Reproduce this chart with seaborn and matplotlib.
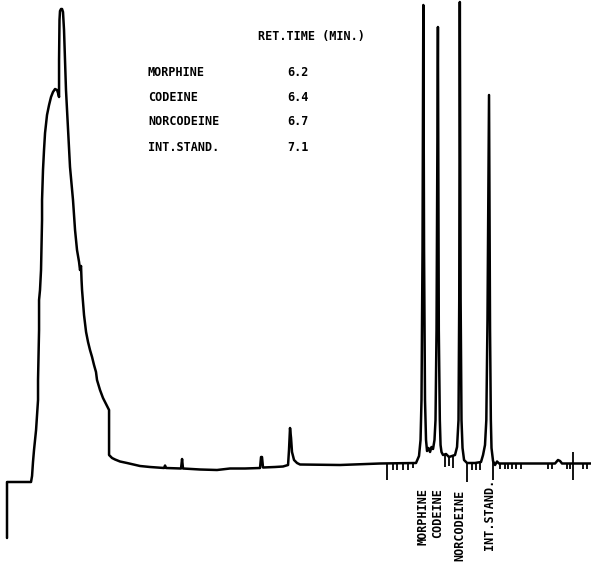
import matplotlib
matplotlib.use("Agg")
import matplotlib.pyplot as plt
import matplotlib.transforms as mtransforms
import numpy as np
import pandas as pd
import seaborn as sns

# Detector trace: retention time (min) and detector response (arbitrary units)
time_min = [
    0.497, 0.497, 0.826, 0.840, 0.853, 0.867, 0.881, 0.895, 0.908, 0.922,
    0.922, 0.936, 0.936, 0.949, 0.963, 0.977, 0.977, 0.990, 1.004, 1.018,
    1.045, 1.073, 1.100, 1.127, 1.155, 1.182, 1.196, 1.210, 1.210, 1.216,
    1.223, 1.237, 1.251, 1.264, 1.278, 1.292, 1.305, 1.319, 1.360, 1.401,
    1.429, 1.456, 1.484, 1.497, 1.511, 1.518, 1.525, 1.552, 1.580, 1.607,
    1.634, 1.662, 1.689, 1.716, 1.730, 1.771, 1.812, 1.853, 1.895, 1.895,
    1.936, 1.977, 2.045, 2.141, 2.319, 2.456, 2.648, 2.662, 2.675, 2.881,
    2.895, 2.908, 3.141, 3.374, 3.552, 3.758, 3.963, 3.977, 3.990, 4.004,
    4.168, 4.278, 4.347, 4.360, 4.374, 4.388, 4.401, 4.429, 4.470, 4.511,
    5.059, 5.608, 6.100, 6.141, 6.162, 6.175, 6.189, 6.200, 6.210, 6.223,
    6.237, 6.251, 6.271, 6.292, 6.312, 6.333, 6.353, 6.367, 6.381, 6.400,
    6.412, 6.426, 6.436, 6.449, 6.470, 6.511, 6.552, 6.593, 6.634, 6.662,
    6.682, 6.692, 6.700, 6.711, 6.723, 6.737, 6.758, 6.799, 6.908, 6.990,
    7.018, 7.045, 7.063, 7.079, 7.100, 7.114, 7.125, 7.134, 7.155, 7.182,
    7.210, 7.237, 7.799, 8.004, 8.045, 8.073, 8.100, 8.497,
]
response = [
    -14.6, -3.4, -3.4, -2.2, 0.6, 3.0, 5.0, 7.0, 10.0, 13.0,
    17.0, 27.0, 33.0, 35.0, 39.0, 49.0, 53.0, 59.0, 63.0, 66.4,
    70.0, 72.0, 73.6, 74.6, 75.2, 75.0, 74.4, 73.6, 81.0, 89.0,
    90.8, 91.2, 91.2, 90.6, 87.0, 81.0, 75.0, 71.0, 59.6, 53.0,
    47.0, 43.0, 40.6, 39.0, 39.8, 37.0, 35.0, 30.0, 26.6, 24.6,
    23.0, 21.6, 20.0, 18.6, 17.0, 15.0, 13.4, 12.2, 11.0, 2.0,
    1.4, 1.1, 0.7, 0.4, -0.2, -0.4, -0.6, -0.1, -0.6, -0.7,
    1.2, -0.7, -0.9, -1.0, -0.7, -0.7, -0.6, 1.6, 1.6, -0.5,
    -0.4, -0.3, 0.0, 3.0, 7.4, 5.4, 2.6, 1.0, 0.4, 0.1,
    0.0, 0.3, 0.4, 1.8, 5.0, 13.0, 43.0, 92.0, 43.0, 13.0,
    5.0, 2.8, 3.4, 2.6, 3.6, 3.2, 5.0, 9.0, 27.0, 87.6,
    27.0, 9.0, 4.0, 2.6, 2.0, 2.2, 1.6, 1.8, 2.0, 3.6,
    9.0, 33.0, 92.6, 33.0, 9.0, 3.4, 1.0, 0.4, 0.4, 0.6,
    2.0, 4.0, 9.0, 29.0, 74.0, 27.0, 9.0, 3.4, 0.8, 0.0,
    0.7, 0.3, 0.3, 0.3, 1.0, 0.8, 0.3, 0.3,
]

# Integrator event marks along the baseline
mark_time = [
    5.703, 5.785, 5.840, 5.922, 5.990, 6.059, 6.497, 6.552, 6.607,
    6.799, 6.867, 6.922, 6.977, 7.155, 7.251, 7.319, 7.360, 7.415,
    7.470, 7.538, 7.908, 7.963, 8.168, 8.210, 8.251, 8.388, 8.442,
]
mark_top = [
    0.4, 0.4, 0.4, 0.4, 0.4, 0.4, 2.2, 1.6, 1.8,
    0.4, 0.4, 0.4, 0.4, 0.8, 0.3, 0.3, 0.3, 0.3,
    0.3, 0.3, 0.3, 0.3, 0.3, 0.3, 2.6, 0.3, 0.3,
]
mark_bottom = [
    -3.0, -1.0, -1.0, -1.0, -1.0, -0.6, -0.4, -0.2, -0.6,
    -3.4, -1.0, -1.0, -1.0, -3.0, -0.8, -0.8, -0.8, -0.8,
    -0.8, -0.8, -0.8, -0.8, -0.8, -0.8, -3.0, -0.8, -0.8,
]

# Identified compounds and their retention times
compounds = ["MORPHINE", "CODEINE", "NORCODEINE", "INT.STAND."]
ret_times = [6.2, 6.4, 6.7, 7.1]
ret_labels = ["6.2", "6.4", "6.7", "7.1"]

df = pd.DataFrame({"time": time_min, "response": response})

sns.set_theme(style="white")
plt.rcParams["font.family"] = ["DejaVu Sans Mono", "DejaVu Sans"]

fig = plt.figure(figsize=(5.91, 5.64), dpi=100)
ax = fig.add_axes([0, 0, 1, 1])

sns.lineplot(data=df, x="time", y="response", sort=False, estimator=None,
             color="black", linewidth=1.8, ax=ax)
ax.vlines(mark_time, mark_bottom, mark_top, color="black", linewidth=1.3)

ax.set_xlim(0.401, 8.497)
ax.set_ylim(-19.8, 93.0)
ax.axis("off")

ink = dict(color="black", fontweight="bold", fontsize=8.5,
           family=["DejaVu Sans Mono"])

# Retention time table
fig.text(0.4365, 0.9344, "RET.TIME (MIN.)", va="center", ha="left", **ink)
row_y = [0.8723, 0.8280, 0.7837, 0.7376]
for name, rt, yy in zip(compounds, ret_labels, row_y):
    fig.text(0.2504, yy, name, va="center", ha="left", **ink)
    fig.text(0.4856, yy, rt, va="center", ha="left", **ink)

# Peak identification below the baseline
trans = mtransforms.blended_transform_factory(ax.transData, ax.transAxes)
label_top = [0.135, 0.135, 0.131, 0.152]
for name, rt, yt in zip(compounds, ret_times, label_top):
    ax.text(rt, yt, name, rotation=90, ha="center", va="top",
            transform=trans, **ink)

fig.savefig("out.png", dpi=100, facecolor="white")
